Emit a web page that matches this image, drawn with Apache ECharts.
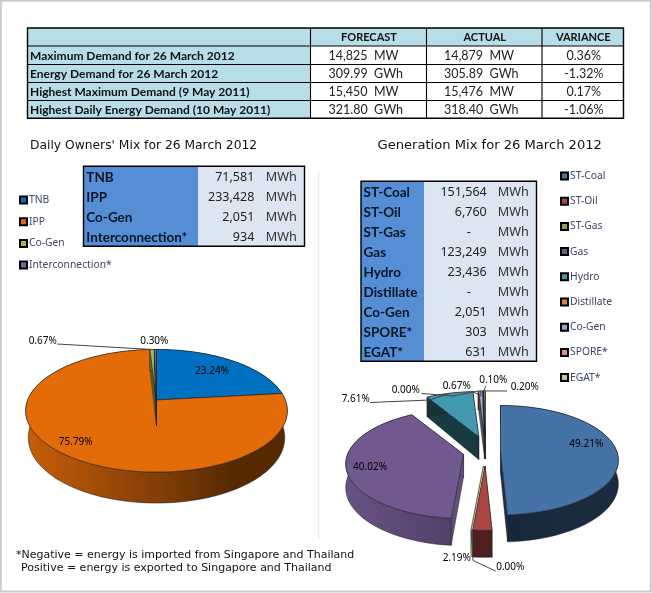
<!DOCTYPE html>
<html><head><meta charset="utf-8">
<style>html,body{margin:0;padding:0;background:#fff}#c{width:652px;height:593px}</style>
<script src="https://cdn.jsdelivr.net/npm/echarts@6/dist/echarts.min.js"></script>
</head><body><div id="c"></div>
<script>
// ---------- data ----------
const demandHeader = ['', 'FORECAST', 'ACTUAL', 'VARIANCE'];
const demandRows = ['Maximum Demand for 26 March 2012','Energy Demand for 26 March 2012','Highest Maximum Demand (9 May 2011)','Highest Daily Energy Demand (10 May 2011)'];
const demandForecast = ['14,825  MW','309.99  GWh','15,450  MW','321.80  GWh'];
const demandActual = ['14,879  MW','305.89  GWh','15,476  MW','318.40  GWh'];
const demandVariance = ['0.36%','-1.32%','0.17%','-1.06%'];

const ownerNames = ['TNB','IPP','Co-Gen','Interconnection*'];
const ownerMWh = [71581,233428,2051,934];
const ownerColors = ['#0070c0','#e36c09','#9bbb59','#8064a2'];

const genNames = ['ST-Coal','ST-Oil','ST-Gas','Gas','Hydro','Distillate','Co-Gen','SPORE*','EGAT*'];
const genMWh = [151564,6760,0,123249,23436,0,2051,303,631];
const genColors = ['#4572a7','#aa4643','#89a54e','#71588f','#4198af','#db843d','#93a9cf','#d19392','#b9cd96'];

const titleOwners = "Daily Owners' Mix for 26 March 2012";
const titleGen = 'Generation Mix for 26 March 2012';
const noteLines = ['*Negative = energy is imported from Singapore and Thailand','Positive = energy is exported to Singapore and Thailand'];

// ---------- layout ----------
const UI='"DejaVu Sans"', LAB='"Noto Sans"', CAL='Lato';
const ownerPie = {cx:156.5,cy:400,exR:0,exL:0,ey:0,X:128.8,Y:59.4,k:0.1755,D0:26,D1:5,f:0.98,
  wall:[[.87,.38],[.87,.38],[.87,.38],[.87,.38]],face:.5,
  labels:[{x:212,y:370.7},{x:75.7,y:441.7},{x:42.7,y:340.7,via:[[57.3,344]]},{x:154.3,y:340.7}]};
const genPie = {cx:485.5,cy:451,exR:15,exL:22.5,ey:15,X:116,Y:53,k:0.1755,D0:23,D1:4,f:1,
  wall:[[.45,.38],[.55,.5],[.6,.5],[.92,.55],[.38,.38],[.5,.5],[.5,.5],[.5,.5],[.5,.5]],
  faces:[.42,.5,.6,.88,.38,.5,.5,.5,.5],
  labels:[{x:586.3,y:444},{x:456.7,y:557.7},{x:510.3,y:567.3,via:[[495.5,571],[473,560.5]]},{x:370,y:466.7},
    {x:355.7,y:398.7,via:[[370,402.5],[430,400]]},{x:405.7,y:390,via:[[421.5,393.5],[453,396]]},
    {x:456.7,y:385.7,via:[[472,391],[481,396]]},{x:493.3,y:380.3,via:[[486,386]]},{x:524.7,y:387.3,via:[[507,391]]}]};

function shade(hex,f){const n=parseInt(hex.slice(1),16);
  return 'rgb('+[(n>>16)&255,(n>>8)&255,n&255].map(c=>Math.round(c*f)).join(',')+')';}

function sliceSeries(names,vals,colors,P,prefix){
  const total=vals.reduce((a,b)=>a+b,0);let acc=0;
  return names.map((name,i)=>{
    const a0=acc/total*2*Math.PI;acc+=vals[i];const a1=acc/total*2*Math.PI;
    return {type:'custom',name:name,id:prefix+i,coordinateSystem:'none',data:[vals[i]],silent:true,
      itemStyle:{color:colors[i]},
      renderItem(params,api){
        const mid=(a0+a1)/2, sm=Math.sin(mid), ax=P.cx+sm*(sm>0?P.exR:P.exL), ay=P.cy-P.ey*Math.cos(mid);
        const top=t=>{const u=Math.sin(t),v=-Math.cos(t),s=1/(1-P.k*v);return [ax+P.X*u*s,ay+P.Y*v*s,v];};
        const low=p=>[ax+(p[0]-ax)*P.f,p[1]+P.D0+P.D1*p[2]];
        const apex=[ax,ay,0], n=Math.max(1,Math.ceil((a1-a0)/(Math.PI/90))), rim=[];
        for(let j=0;j<=n;j++)rim.push(top(a0+(a1-a0)*j/n));
        const edge={stroke:'rgba(25,25,25,.75)',lineWidth:.7};
        const xs=[P.cx-P.X-P.exL,P.cx+P.X+P.exR];
        const w=P.wall[i];
        const grad=new echarts.graphic.LinearGradient(xs[0],0,xs[1],0,[{offset:0,color:shade(colors[i],w[0])},{offset:.55,color:shade(colors[i],(w[0]+w[1])/2-.08)},{offset:.8,color:shade(colors[i],w[1])},{offset:1,color:shade(colors[i],w[1])}],true);
        const faceF=P.faces?P.faces[i]:P.face;
        const children=[];
        const side=(a,b,fill)=>children.push({type:'polygon',shape:{points:[a.slice(0,2),b.slice(0,2),low(b),low(a)]},style:{fill,stroke:edge.stroke,lineWidth:.5}});
        if(vals[i]>0){
          side(apex,rim[0],shade(colors[i],faceF));
          side(apex,rim[n],shade(colors[i],faceF));
          children.push({type:'polygon',shape:{points:rim.map(p=>p.slice(0,2)).concat(rim.slice().reverse().map(low))},style:Object.assign({fill:grad},edge)});
          children.push({type:'polygon',shape:{points:[apex.slice(0,2)].concat(rim.map(p=>p.slice(0,2)))},style:Object.assign({fill:colors[i]},edge)});
        } else {
          children.push({type:'polyline',shape:{points:[apex.slice(0,2),rim[0].slice(0,2),low(rim[0])]},style:{fill:'none',stroke:shade(colors[i],.75),lineWidth:1.3}});
        }
        const L=P.labels[i];
        if(L.via){children.push({type:'polyline',shape:{points:L.via.concat([top(mid).slice(0,2)])},style:{fill:'none',stroke:'#444',lineWidth:1}});}
        children.push({type:'text',x:L.x,y:L.y,style:{text:(vals[i]/total*100).toFixed(2)+'%',font:'10px '+LAB,fill:'#000',textAlign:'center',textVerticalAlign:'middle'}});
        return {type:'group',children};
      }};
  });
}

// ---------- static text / tables ----------
const g=[];
const rect=(x,y,w,h,fill)=>g.push({type:'rect',shape:{x,y,width:w,height:h},style:{fill,stroke:'none'},silent:true});
const box=(x,y,w,h,lw)=>g.push({type:'rect',shape:{x,y,width:w,height:h},style:{fill:'none',stroke:'#000',lineWidth:lw||1.4},silent:true});
const txt=(s,x,y,font,fill,al)=>g.push({type:'text',x,y,silent:true,style:{text:s,font,fill:fill||'#111',textAlign:al||'left',textVerticalAlign:'middle'}});

g.push({type:'rect',shape:{x:.8,y:.8,width:650,height:590.6},style:{fill:'none',stroke:'#cbcbcb',lineWidth:2},silent:true});
g.push({type:'line',shape:{x1:318.8,y1:172,x2:318.8,y2:538},style:{stroke:'#e2e2e2',lineWidth:1},silent:true});

// demand table
const cols=[27.5,310.5,426.5,542,623.5], rowsY=[28,46,64.5,82.5,100.5,118.2];
rect(cols[0],rowsY[0],cols[4]-cols[0],rowsY[1]-rowsY[0],'#b7dde8');
rect(cols[0],rowsY[1],cols[1]-cols[0],rowsY[5]-rowsY[1],'#b7dde8');
box(cols[0],rowsY[0],cols[4]-cols[0],rowsY[5]-rowsY[0]);
for(let i=1;i<5;i++)box(cols[0],rowsY[i],cols[4]-cols[0],0,1.1);
for(let i=1;i<4;i++)box(cols[i],rowsY[0],0,rowsY[5]-rowsY[0],1.1);
for(let c=1;c<4;c++)txt(demandHeader[c],(cols[c]+cols[c+1])/2+.5,37.8,'bold 11px '+CAL,'#111','center');
demandRows.forEach((r,i)=>{const y=(rowsY[i+1]+rowsY[i+2])/2+.6;
  txt(r,30,y,'bold 12px '+CAL,'#111');
  txt(demandForecast[i],328.5,y,'12.5px '+CAL,'#222');
  txt(demandActual[i],444,y,'12.5px '+CAL,'#222');
  txt(demandVariance[i],(cols[3]+cols[4])/2+1,y,'12.5px '+CAL,'#222','center');
});

// MWh tables
function mwhTable(names,vals,x0,x1,x2,y0,vx,ux,lx){
  const h=20,n=names.length;
  rect(x0,y0,x1-x0,h*n,'#558ed5');rect(x1,y0,x2-x1,h*n,'#dce6f2');box(x0,y0,x2-x0,h*n);
  names.forEach((s,i)=>{const y=y0+h*i+11;
    txt(s,lx,y,'bold 13.5px '+CAL,'#0b1526');
    txt(vals[i]?vals[i].toLocaleString('en-US'):'-',vals[i]?vx:vx-16,y,'12.5px '+LAB,'#222','right');
    txt('MWh',ux,y,'12.7px '+LAB,'#333');
  });
}
mwhTable(ownerNames,ownerMWh,83.5,198,304.5,166.2,254.3,265.7,86.3);
mwhTable(genNames,genMWh,361,424,536.5,181.3,486.7,497.7,363.5);

txt(titleOwners,30,146,'12.3px '+UI,'#111');
txt(titleGen,377.5,145.7,'13.1px '+UI,'#111');
txt(noteLines[0],16,555,'11px '+UI,'#111');
txt(noteLines[1],21,568,'11px '+UI,'#111');

const legendBase={orient:'vertical',itemWidth:7,itemHeight:7,selectedMode:false,padding:0,
  textStyle:{fontFamily:LAB,fontSize:10.3,color:'#3d4468',lineHeight:12,padding:[0,0,0,-3]},
  itemStyle:{borderColor:'#000',borderWidth:2}};
const legItems=(names,cols)=>names.map((n,i)=>({name:n,icon:'rect',itemStyle:{color:cols[i],borderColor:'#000',borderWidth:2}}));

const chart=echarts.init(document.getElementById('c'));
chart.setOption({animation:false,backgroundColor:'#fff',
  legend:[
    Object.assign({},legendBase,{left:19,top:194,itemGap:9.7,data:legItems(ownerNames,ownerColors)}),
    Object.assign({},legendBase,{left:560,top:170,itemGap:13.2,data:legItems(genNames,genColors)})
  ],
  graphic:{elements:g},
  series:sliceSeries(ownerNames,ownerMWh,ownerColors,ownerPie,'own').concat(sliceSeries(genNames,genMWh,genColors,genPie,'gen'))
});
</script></body></html>
